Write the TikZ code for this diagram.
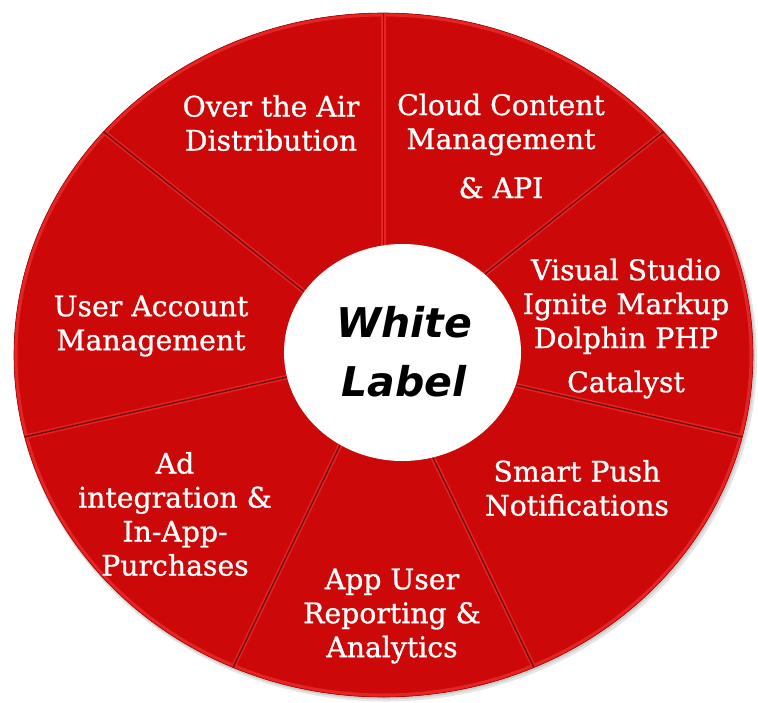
\documentclass[tikz,border=0pt]{standalone}
\usepackage{fontspec}
\setmainfont{DejaVu Serif}[FakeBold=0.9]
\newfontfamily\hubfont{DejaVu Sans}
\definecolor{wheelred}{RGB}{204,8,8}
\definecolor{rimlight}{RGB}{230,36,36}
\definecolor{spokedark}{RGB}{112,14,14}
\tikzset{
  segtext/.style={text=white, align=center, inner sep=0pt,
    font=\fontsize{28.3}{34}\selectfont},
  hubtext/.style={text=black, align=center, inner sep=0pt,
    font=\hubfont\bfseries\itshape\fontsize{41}{59}\selectfont},
  spokeglow/.style={rimlight, line width=4.5pt},
  spokeline/.style={spokedark, line width=1.5pt}
}
\begin{document}
\begin{tikzpicture}[x=1pt,y=-1pt]
\useasboundingbox (0,0) rectangle (758,702);
\coordinate (c) at (383.5,355);

% soft shadow and the red wheel
\fill[black,opacity=0.10] (385.5,358) ellipse [x radius=371.5, y radius=343.5];
\fill[black,opacity=0.10] (384.5,356.5) ellipse [x radius=370.5, y radius=342.8];
\fill[wheelred] (c) ellipse [x radius=369.5, y radius=342];

% rim points of the seven dividers
\coordinate (s1) at (383.5,13);
\coordinate (s2) at (663.4,131.8);
\coordinate (s3) at (742.3,436.9);
\coordinate (s4) at (533.9,667.4);
\coordinate (s5) at (233.1,667.4);
\coordinate (s6) at (24.7,436.9);
\coordinate (s7) at (103.6,131.8);

\begin{scope}
  \clip (c) ellipse [x radius=369.5, y radius=342];
  \draw[rimlight, line width=4pt] (c) ellipse [x radius=368, y radius=340.5];
  \foreach \s in {s1,s2,s3,s4,s5,s6,s7} {
    \draw[spokeglow] (c) -- (\s);
  }
  \foreach \s in {s1,s2,s3,s4,s5,s6,s7} {
    \draw[spokeline] (c) -- (\s);
  }
\end{scope}
\draw[wheelred!75!black, line width=0.6pt] (c) ellipse [x radius=369.5, y radius=342];

% white hub
\fill[white] (402.5,352.5) ellipse [x radius=118.5, y radius=108.5];
\node[hubtext] (hub) at (404,351.5) {White\\Label};

% segment labels
\node[segtext] (ota) at (271,123) {Over the Air\\Distribution};
\node[segtext] (cloud) at (501,146) {Cloud Content\\Management\\[15pt]\& API};
\node[segtext] (tools) at (626,328.5) {Visual Studio\\Ignite Markup\\Dolphin PHP\\[10pt]Catalyst};
\node[segtext] (push) at (577,488) {Smart Push\\Notifications};
\node[segtext] (report) at (392,616) {App User\\Reporting \&\\Analytics};
\node[segtext] (ads) at (175,514) {Ad\\integration \&\\In-App-\\Purchases};
\node[segtext] (account) at (151,326) {User Account\\Management};
\end{tikzpicture}
\end{document}
